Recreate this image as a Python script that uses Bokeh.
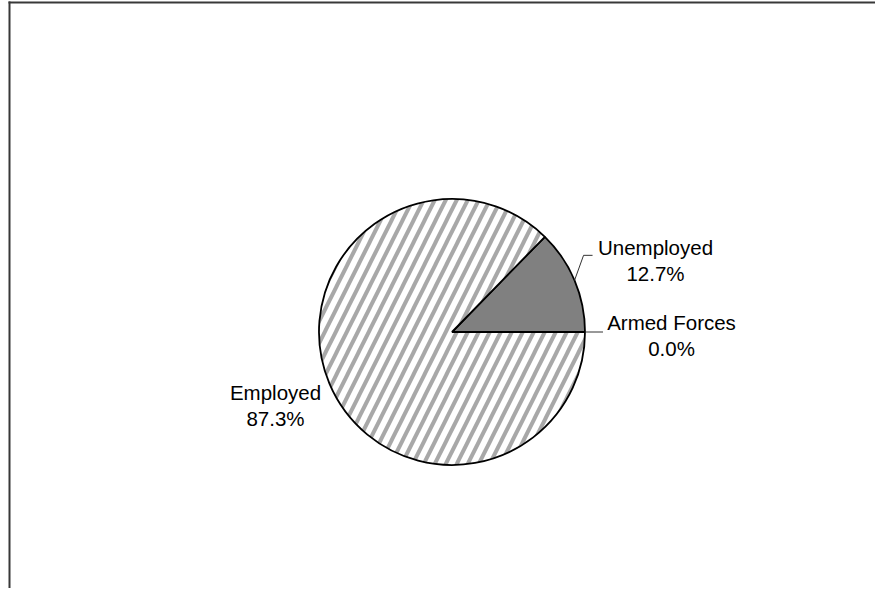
import numpy as np
from bokeh.plotting import figure
from bokeh.models import Range1d, ColumnDataSource
from bokeh.core.properties import value
from bokeh.embed import file_html
from bokeh.resources import INLINE

# ---- data ----
categories = ["Armed Forces", "Unemployed", "Employed"]
percent = [0.0, 12.7, 87.3]

# ---- layout (pixel-like data space) ----
W, H = 875, 588
cx, cy, R = 451.5, H - 331.5, 133.0
FONT = "Liberation Sans"
FS = "20.5px"

p = figure(width=W, height=H, output_backend="svg", toolbar_location=None,
           x_range=Range1d(0, W), y_range=Range1d(0, H),
           min_border=0)
p.axis.visible = False
p.grid.visible = False
p.outline_line_color = None
p.background_fill_color = "white"

# border lines (left and top, the rest is clipped)
p.line([9, 9], [0, H - 1], line_color="#383838", line_width=2)
p.line([8, W], [H - 2, H - 2], line_color="#383838", line_width=2)

# wedge angles (counter-clockwise from east)
fr = np.array(percent) / sum(percent)
ends = np.cumsum(fr) * 2 * np.pi
starts = np.concatenate([[0], ends[:-1]])
mids = (starts + ends) / 2
idx = {c: i for i, c in enumerate(categories)}

iu, ie, ia = idx["Unemployed"], idx["Employed"], idx["Armed Forces"]
p.wedge(x=cx, y=cy, radius=R, start_angle=starts[iu], end_angle=ends[iu],
        fill_color="#808080", line_color="black", line_width=1.8)
p.wedge(x=cx, y=cy, radius=R, start_angle=starts[ie], end_angle=ends[ie],
        fill_color="white", hatch_pattern="/", hatch_color="#a8a8a8",
        hatch_scale=22, hatch_weight=4,
        line_color="black", line_width=1.8)

# leader lines
sx0 = cx + R * np.cos(mids[iu]); sy0 = cy + R * np.sin(mids[iu])
p.line([sx0, sx0 + 9, sx0 + 18], [sy0, sy0 + 25, sy0 + 25],
       line_color="#333333", line_width=1)
sx1 = cx + R * np.cos(mids[ia]); sy1 = cy + R * np.sin(mids[ia])
p.line([sx1, sx1 + 18], [sy1, sy1], line_color="#333333", line_width=1)

# labels (x centre, baseline of first line)
lab_pos = {"Unemployed": (655, H - 246.7), "Armed Forces": (671, H - 321.7),
           "Employed": (275, H - 391.7)}
names, pcts, xs, y1, y2 = [], [], [], [], []
for c, v in zip(categories, percent):
    x, y = lab_pos[c]
    names.append(c); pcts.append(f"{v:.1f}%")
    xs.append(x); y1.append(y); y2.append(y - 26.5)
src = ColumnDataSource(dict(x=xs, y1=y1, y2=y2, n=names, pc=pcts))
p.text(x="x", y="y1", text="n", source=src, text_font=value(FONT),
       text_font_size=FS, text_align="center", text_baseline="alphabetic",
       text_color="black")
p.text(x="x", y="y2", text="pc", source=src, text_font=value(FONT),
       text_font_size=FS, text_align="center", text_baseline="alphabetic",
       text_color="black")

open("out.html", "w").write(file_html(p, INLINE))
